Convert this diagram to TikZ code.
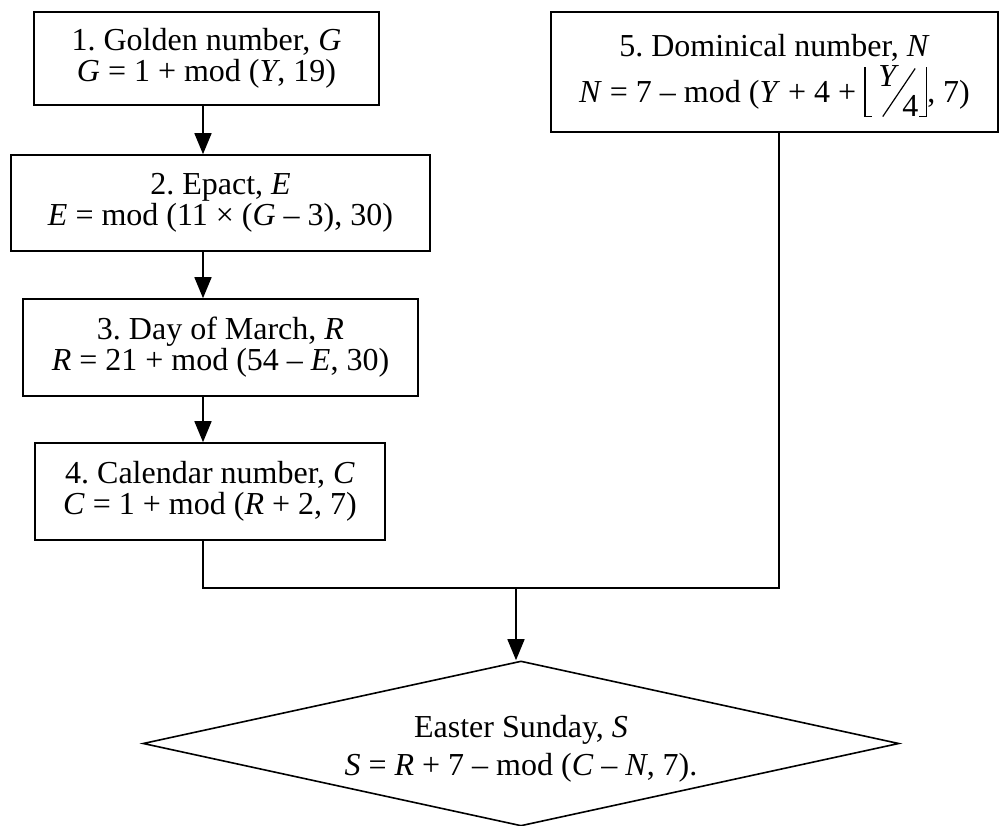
\documentclass[tikz,border=0pt]{standalone}
\usepackage{fix-cm}
\usepackage{graphicx}
\usepackage{fontspec}
\setmainfont{Liberation Serif}
\usetikzlibrary{shapes.geometric,arrows.meta}
\newcommand{\floorquarter}{\mbox{%
  \rlap{\rule[-14pt]{1.3pt}{50pt}}%
  \rlap{\rule[-14pt]{8pt}{1.3pt}}%
  \rlap{\hspace{14pt}\raisebox{16pt}{\textit{Y}}}%
  \rlap{\hspace{18pt}\raisebox{-14pt}{\rotatebox{56}{\rule{58pt}{1.2pt}}}}%
  \rlap{\hspace{38pt}\raisebox{-14pt}{4}}%
  \rlap{\hspace{55pt}\rule[-14pt]{8pt}{1.3pt}}%
  \rlap{\hspace{61.7pt}\rule[-14pt]{1.3pt}{50pt}}%
  \hspace{63pt}}}
\begin{document}
\frenchspacing
\begin{tikzpicture}[x=1pt,y=-1pt,
  box/.style={draw, line width=1.6pt, align=center, inner sep=0pt,
    font=\fontsize{32}{31}\selectfont\frenchspacing},
  conn/.style={line width=1.6pt},
  arr/.style={conn, -{Triangle[length=21pt,width=17pt]}}]
\useasboundingbox (0,0) rectangle (999,826);
\node[box, minimum width=345pt, minimum height=93pt] (b1) at (206.5,58.5)
  {1. Golden number, \textit{G}\\ \textit{G} = 1 + mod (\textit{Y}, 19)};
\node[box, minimum width=419pt, minimum height=96pt] (b2) at (220.5,203)
  {2. Epact, \textit{E}\\ \textit{E} = mod (11 × (\textit{G} – 3), 30)};
\node[box, minimum width=395pt, minimum height=97pt] (b3) at (220.5,347.5)
  {3. Day of March, \textit{R}\\ \textit{R} = 21 + mod (54 – \textit{E}, 30)};
\node[box, minimum width=350pt, minimum height=97pt] (b4) at (210,491.5)
  {4. Calendar number, \textit{C}\\ \textit{C} = 1 + mod (\textit{R} + 2, 7)};
\node[box, minimum width=447pt, minimum height=120pt] (b5) at (774.5,72)
  {\rule{0pt}{29pt}5. Dominical number, \textit{N}\\[4pt] \textit{N} = 7 – mod (\textit{Y} + 4 + \floorquarter, 7)};
\node[draw, shape=diamond, aspect=4.58, minimum width=756pt, minimum height=165pt,
  inner sep=0pt, line width=1.6pt, align=center,
  font=\fontsize{32}{38}\selectfont\frenchspacing] (dia) at (521,743.5)
  {\rule{0pt}{32pt}Easter Sunday, \textit{S}\\ \textit{S} = \textit{R} + 7 – mod (\textit{C} – \textit{N}, 7).};
\coordinate (ax) at (203,0);
\coordinate (jl) at (203,588);
\coordinate (jr) at (779,588);
\coordinate (jm) at (516,588);
\draw[arr] (b1.south -| ax) -- (b2.north -| ax);
\draw[arr] (b2.south -| ax) -- (b3.north -| ax);
\draw[arr] (b3.south -| ax) -- (b4.north -| ax);
\draw[conn] (b4.south -| jl) -- (jl) -- (jr) -- (b5.south -| jr);
\draw[arr] (jm) -- (jm |- dia.north);
\end{tikzpicture}
\end{document}
